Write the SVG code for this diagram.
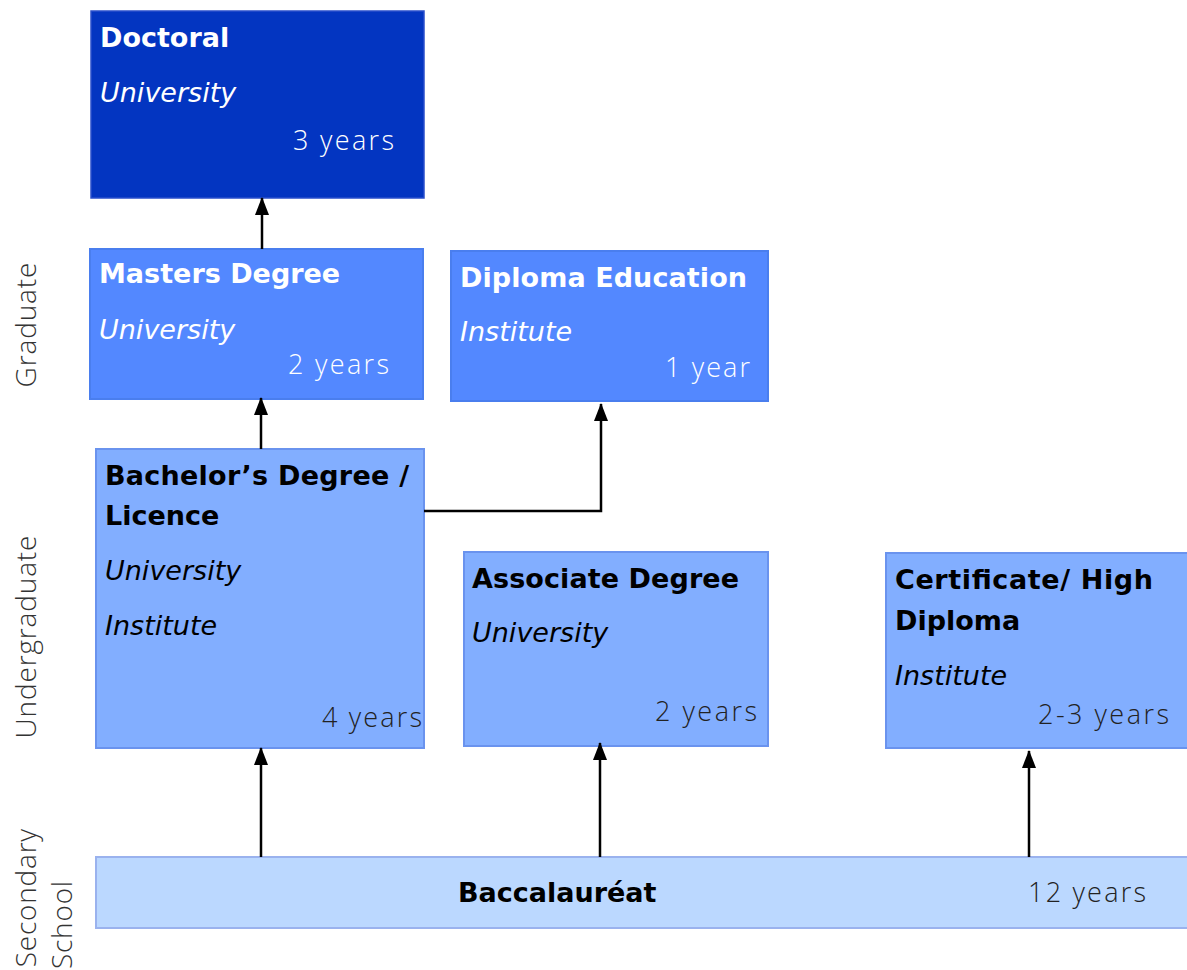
<svg xmlns="http://www.w3.org/2000/svg" width="1187" height="970" viewBox="0 0 1187 970">
<defs>
<marker id="arr" markerUnits="userSpaceOnUse" markerWidth="18" markerHeight="16" viewBox="0 0 18 16" refX="17" refY="8" orient="auto">
<path d="M18,8 L0,1 L0,15 Z" fill="#000"/>
</marker>
<style>
.b{font-family:"DejaVu Sans",Verdana,sans-serif;font-weight:bold;font-size:27px}
.i{font-family:"DejaVu Sans",Verdana,sans-serif;font-style:italic;font-size:27px}
.l{font-family:"Open Sans","Lato",sans-serif;font-weight:300;font-size:27px}
.side{font-family:"Open Sans","Lato",sans-serif;font-weight:300;font-size:28px;fill:#333}
.w{fill:#fff}
.k{fill:#000}
.g{fill:#222}
.c{fill:none;stroke:#000;stroke-width:2.5}
</style>
</defs>
<rect width="1187" height="970" fill="#fff"/>

<g id="side-labels">
<text class="side" transform="translate(36,325) rotate(-90)" text-anchor="middle" textLength="125" lengthAdjust="spacing">Graduate</text>
<text class="side" transform="translate(36,637) rotate(-90)" text-anchor="middle" textLength="203" lengthAdjust="spacing">Undergraduate</text>
<text class="side" transform="translate(36,828) rotate(-90)" text-anchor="end" letter-spacing="0.8">Secondary</text>
<text class="side" transform="translate(72,880) rotate(-90)" text-anchor="end" letter-spacing="0.8">School</text>
</g>

<g id="doctoral">
<rect x="91" y="11" width="333" height="187" fill="#0335C1" stroke="#2A4FCB" stroke-width="1.5"/>
<text class="b w" x="100" y="47">Doctoral</text>
<text class="i w" x="100" y="102">University</text>
<text class="l w" x="293" y="150" textLength="101" lengthAdjust="spacing">3 years</text>
</g>

<g id="masters">
<rect x="90" y="249" width="333" height="150" fill="#5388FF" stroke="#4A7EEE" stroke-width="2"/>
<text class="b w" x="99" y="283">Masters Degree</text>
<text class="i w" x="99" y="339">University</text>
<text class="l w" x="288" y="374" textLength="101" lengthAdjust="spacing">2 years</text>
</g>

<g id="diploma-education">
<rect x="451" y="251" width="317" height="150" fill="#5388FF" stroke="#4A7EEE" stroke-width="2"/>
<text class="b w" x="460" y="287" textLength="287" lengthAdjust="spacing">Diploma Education</text>
<text class="i w" x="460" y="341">Institute</text>
<text class="l w" x="665" y="377" textLength="85" lengthAdjust="spacing">1 year</text>
</g>

<g id="bachelor">
<rect x="96" y="449" width="328" height="299" fill="#82AEFF" stroke="#6A93EE" stroke-width="2"/>
<text class="b k" x="105" y="485" textLength="304" lengthAdjust="spacing">Bachelor’s Degree /</text>
<text class="b k" x="105" y="525">Licence</text>
<text class="i k" x="105" y="580">University</text>
<text class="i k" x="105" y="635">Institute</text>
<text class="l g" x="322" y="727" textLength="100" lengthAdjust="spacing">4 years</text>
</g>

<g id="associate">
<rect x="464" y="552" width="304" height="194" fill="#82AEFF" stroke="#6A93EE" stroke-width="2"/>
<text class="b k" x="472" y="588" textLength="267" lengthAdjust="spacing">Associate Degree</text>
<text class="i k" x="472" y="642">University</text>
<text class="l g" x="655" y="721" textLength="102" lengthAdjust="spacing">2 years</text>
</g>

<g id="certificate">
<rect x="886" y="553" width="310" height="195" fill="#82AEFF" stroke="#6A93EE" stroke-width="2"/>
<text class="b k" x="895" y="589" textLength="258" lengthAdjust="spacing">Certificate/ High</text>
<text class="b k" x="895" y="630">Diploma</text>
<text class="i k" x="895" y="685">Institute</text>
<text class="l g" x="1038" y="724" textLength="131" lengthAdjust="spacing">2-3 years</text>
</g>

<g id="baccalaureat">
<rect x="96" y="857" width="1100" height="71" fill="#BBD8FF" stroke="#9AB2EE" stroke-width="2"/>
<text class="b k" x="458" y="902">Baccalauréat</text>
<text class="l g" x="1028" y="902" textLength="118" lengthAdjust="spacing">12 years</text>
</g>

<g id="connectors">
<line class="c" x1="262" y1="249" x2="262" y2="198" marker-end="url(#arr)"/>
<line class="c" x1="261" y1="449" x2="261" y2="398" marker-end="url(#arr)"/>
<path class="c" d="M424,511 H601 V404" stroke-width="2" marker-end="url(#arr)"/>
<line class="c" x1="261" y1="857" x2="261" y2="748" marker-end="url(#arr)"/>
<line class="c" x1="600" y1="857" x2="600" y2="743" marker-end="url(#arr)"/>
<line class="c" x1="1029" y1="857" x2="1029" y2="751" marker-end="url(#arr)"/>
</g>
</svg>
